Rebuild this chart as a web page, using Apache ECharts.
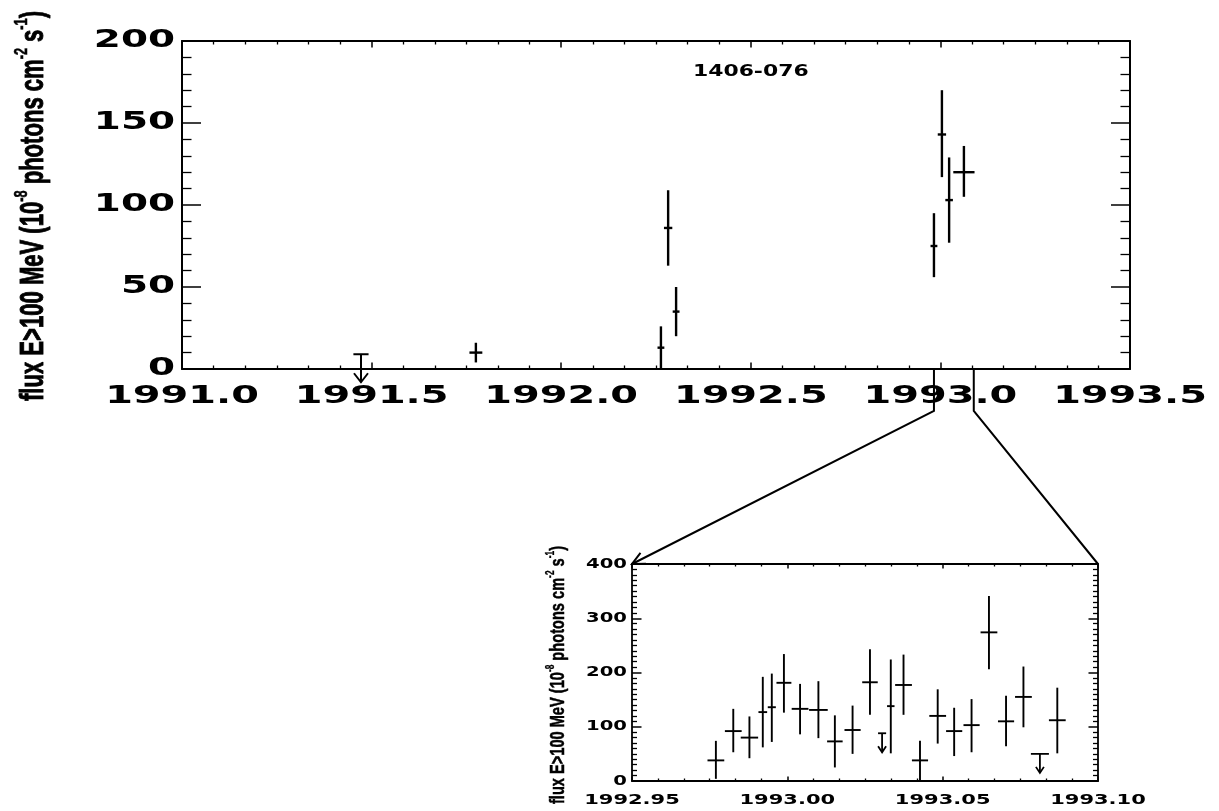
<!DOCTYPE html>
<html>
<head>
<meta charset="utf-8">
<title>1406-076 light curve</title>
<script src="https://cdn.jsdelivr.net/npm/echarts@6/dist/echarts.min.js"></script>
<style>
  html, body { margin: 0; padding: 0; background: #fff; }
  #chart { width: 1219px; height: 811px; }
</style>
</head>
<body>
<div id="chart"></div>
<script>
// Gamma-ray light curve of 1406-076, flux above 100 MeV (10^-8 photons cm^-2 s^-1)

// ---- long-term light curve (viewing periods) ----
const mainTime      = [1991.775, 1992.263, 1992.282, 1992.303, 1992.983, 1993.004, 1993.023, 1993.062];
const mainFlux      = [10, 13, 86, 35, 75, 143, 103, 120];
const mainFluxLow   = [4, 0, 63, 20, 56, 117, 77, 105];
const mainFluxHigh  = [16, 26, 109, 50, 95, 170, 129, 136];
const mainTimeErr   = [0.017, 0.009, 0.011, 0.009, 0.009, 0.011, 0.010, 0.028];
// upper limits
const mainLimitTime    = [1991.472];
const mainLimitFlux    = [9];
const mainLimitTimeErr = [0.020];

// ---- daily light curve around the flare ----
const insetTime     = [1992.977, 1992.9826, 1992.9878, 1992.9921, 1992.995, 1992.9989, 1993.0041, 1993.010,
                       1993.0153, 1993.021, 1993.0266, 1993.0333, 1993.0374, 1993.0427, 1993.0484, 1993.0537,
                       1993.0593, 1993.0649, 1993.0704, 1993.076, 1993.0869];
const insetFlux     = [38, 92, 80, 127, 136, 181, 133, 131, 73, 94, 182, 138, 177, 38, 120, 92, 103, 274, 110, 155, 112];
const insetFluxLow  = [4, 53, 42, 62, 72, 126, 86, 79, 25, 50, 122, 51, 122, 2, 69, 46, 53, 206, 64, 99, 51];
const insetFluxHigh = [74, 133, 119, 192, 198, 234, 179, 184, 121, 139, 243, 224, 233, 74, 169, 135, 151, 341, 157, 211, 172];
const insetTimeErr  = [0.0027, 0.0027, 0.0028, 0.0014, 0.0013, 0.0024, 0.0027, 0.0030, 0.0025, 0.0026, 0.0025,
                       0.0012, 0.0027, 0.0026, 0.0027, 0.0026, 0.0026, 0.0027, 0.0026, 0.0027, 0.0027];
const insetLimitTime    = [1993.0305, 1993.0813];
const insetLimitFlux    = [88, 50];
const insetLimitTimeErr = [0.0013, 0.0029];

// ---- tick labels ----
const mainYearTicks  = [1991.0, 1991.5, 1992.0, 1992.5, 1993.0, 1993.5];
const mainFluxTicks  = [0, 50, 100, 150, 200];
const insetYearTicks = [1992.95, 1993.00, 1993.05, 1993.10];
const insetFluxTicks = [0, 100, 200, 300, 400];

const sourceName = '1406-076';
const zoomRange = [1992.983, 1993.088];   // span marked on the long-term axis

const INK = '#000';
const LABEL_FONT = '"DejaVu Sans", "Liberation Sans", sans-serif';
const TITLE_FONT = '"Liberation Sans", Arial, sans-serif';

const chart = echarts.init(document.getElementById('chart'), null, { renderer: 'canvas' });

function zip(...cols) { return cols[0].map((_, i) => cols.map(c => c[i])); }

function frameAxis(kind, gridIndex, position, min, max, interval, split, majorLen, minorLen, lw) {
  return {
    type: 'value', gridIndex, position, min, max, interval,
    axisLine: { show: true, onZero: false, lineStyle: { color: INK, width: lw } },
    axisTick: { show: true, inside: true, length: majorLen, lineStyle: { color: INK, width: 1.5 } },
    minorTick: { show: true, splitNumber: split, length: minorLen, lineStyle: { color: INK, width: 1.3 } },
    axisLabel: { show: false },
    splitLine: { show: false },
    minorSplitLine: { show: false }
  };
}

function errorBars(lw) {
  return function (params, api) {
    const t = api.value(0), f = api.value(1), lo = api.value(2), hi = api.value(3), dt = api.value(4);
    const pLo = api.coord([t, lo]), pHi = api.coord([t, hi]);
    const pL = api.coord([t - dt, f]), pR = api.coord([t + dt, f]);
    const st = { stroke: INK, lineWidth: lw };
    return {
      type: 'group',
      children: [
        { type: 'line', shape: { x1: pLo[0], y1: pLo[1], x2: pHi[0], y2: pHi[1] }, style: st },
        { type: 'line', shape: { x1: pL[0], y1: pL[1], x2: pR[0], y2: pR[1] }, style: st }
      ]
    };
  };
}

function upperLimits(lw, drop, barbW, barbH) {
  return function (params, api) {
    const t = api.value(0), f = api.value(1), dt = api.value(2);
    const pL = api.coord([t - dt, f]), pR = api.coord([t + dt, f]), pC = api.coord([t, f]);
    const tipY = pC[1] + drop;
    const st = { stroke: INK, lineWidth: lw, fill: null };
    return {
      type: 'group',
      children: [
        { type: 'line', shape: { x1: pL[0], y1: pL[1], x2: pR[0], y2: pR[1] }, style: st },
        { type: 'line', shape: { x1: pC[0], y1: pC[1], x2: pC[0], y2: tipY }, style: st },
        { type: 'polyline', shape: { points: [[pC[0] - barbW, tipY - barbH], [pC[0], tipY], [pC[0] + barbW, tipY - barbH]] }, style: st }
      ]
    };
  };
}

const option = {
  backgroundColor: '#fff',
  animation: false,
  grid: [
    { left: 182, top: 41, width: 948, height: 328 },
    { left: 632, top: 564, width: 466, height: 217 }
  ],
  xAxis: [
    frameAxis('x', 0, 'bottom', 1991.0, 1993.5, 0.5, 6, 6.5, 3.5, 2),
    frameAxis('x', 0, 'top',    1991.0, 1993.5, 0.5, 6, 6.5, 3.5, 2),
    frameAxis('x', 1, 'bottom', 1992.95, 1993.10, 0.05, 6, 4.5, 2.5, 1.8),
    frameAxis('x', 1, 'top',    1992.95, 1993.10, 0.05, 6, 4.5, 2.5, 1.8)
  ],
  yAxis: [
    frameAxis('y', 0, 'left',  0, 200, 50, 5, 19, 9.5, 2),
    frameAxis('y', 0, 'right', 0, 200, 50, 5, 19, 9.5, 2),
    frameAxis('y', 1, 'left',  0, 400, 100, 10, 9.5, 5, 1.8),
    frameAxis('y', 1, 'right', 0, 400, 100, 10, 9.5, 5, 1.8)
  ],
  series: [
    {
      type: 'custom', name: 'main', xAxisIndex: 0, yAxisIndex: 0,
      renderItem: errorBars(2.4),
      data: zip(mainTime, mainFlux, mainFluxLow, mainFluxHigh, mainTimeErr)
    },
    {
      type: 'custom', name: 'main limits', xAxisIndex: 0, yAxisIndex: 0,
      renderItem: upperLimits(2, 28, 7, 9),
      data: zip(mainLimitTime, mainLimitFlux, mainLimitTimeErr)
    },
    {
      type: 'custom', name: 'daily', xAxisIndex: 2, yAxisIndex: 2,
      renderItem: errorBars(1.9),
      data: zip(insetTime, insetFlux, insetFluxLow, insetFluxHigh, insetTimeErr)
    },
    {
      type: 'custom', name: 'daily limits', xAxisIndex: 2, yAxisIndex: 2,
      renderItem: upperLimits(1.8, 19, 4, 6),
      data: zip(insetLimitTime, insetLimitFlux, insetLimitTimeErr)
    }
  ]
};

chart.setOption(option);

// ---- wide bold tick labels, titles and the zoom connector ----
const measureCtx = document.createElement('canvas').getContext('2d');
function textWidth(str, size, weight, family) {
  measureCtx.font = weight + ' ' + size + 'px ' + family;
  return measureCtx.measureText(str).width;
}

function wideText(x, y, text, size, scaleX, align, vAlign) {
  return {
    type: 'text', x, y, scaleX, silent: true,
    style: {
      text, fill: INK, fontSize: size, fontWeight: 'bold', fontFamily: LABEL_FONT,
      align, textAlign: align, verticalAlign: vAlign, textVerticalAlign: vAlign
    }
  };
}

function px(axis, idx, v) {
  const finder = {}; finder[axis + 'AxisIndex'] = idx;
  return chart.convertToPixel(finder, v);
}

function yTitle(cx, cy, length, body, sup, stroke, parts) {
  const bodyW = parts.reduce((s, p) => s + textWidth(p[0], p[1] ? sup : body, 'bold', TITLE_FONT), 0);
  const text = parts.map(p => p[1] ? '{s|' + p[0] + '}' : '{b|' + p[0] + '}').join('');
  return {
    type: 'text', x: cx, y: cy, rotation: Math.PI / 2, scaleX: length / bodyW, silent: true,
    style: {
      text, fill: INK, stroke: INK, lineWidth: stroke,
      align: 'center', textAlign: 'center', verticalAlign: 'middle', textVerticalAlign: 'middle',
      rich: {
        b: { fontSize: body, fontWeight: 'bold', fontFamily: TITLE_FONT, lineHeight: body * 1.15, verticalAlign: 'bottom',
             stroke: INK, lineWidth: stroke },
        s: { fontSize: sup, fontWeight: 'bold', fontFamily: TITLE_FONT, lineHeight: sup, verticalAlign: 'top',
             stroke: INK, lineWidth: stroke * 0.6 }
      }
    }
  };
}

const titleParts = [['flux E>100 MeV (10', 0], ['-8', 1], [' photons cm', 0], ['-2', 1], [' s', 0], ['-1', 1], [')', 0]];

const g = [];
const mainLeft = px('x', 0, 1991.0), mainBottom = px('y', 0, 0);
const insLeft = px('x', 2, 1992.95), insRight = px('x', 2, 1993.10), insTop = px('y', 2, 400), insBottom = px('y', 2, 0);

mainYearTicks.forEach(v => g.push(wideText(px('x', 0, v), mainBottom + 28, v.toFixed(1), 24, 1.66, 'center', 'middle')));
mainFluxTicks.forEach(v => g.push(wideText(mainLeft - 7, px('y', 0, v), String(v), 24, 1.62, 'right', 'middle')));
insetYearTicks.forEach(v => g.push(wideText(px('x', 2, v), insBottom + 19, v.toFixed(2), 14, 1.5, 'center', 'middle')));
insetFluxTicks.forEach(v => g.push(wideText(insLeft - 5, px('y', 2, v), String(v), 14, 1.4, 'right', 'middle')));

g.push(wideText(px('x', 0, 1992.5), px('y', 0, 181), sourceName, 15, 1.46, 'center', 'middle'));

g.push(yTitle(31, 206, 390, 33, 19, 0.9, titleParts));
g.push(yTitle(557, 675, 258, 21, 12, 0.5, titleParts));

// connector from the flare span on the long-term axis to the daily panel
const xa = px('x', 0, zoomRange[0]), xb = px('x', 0, zoomRange[1]);
const bendY = mainBottom + 42;
g.push({ type: 'polyline', silent: true, shape: { points: [[xa, mainBottom], [xa, bendY], [insLeft, insTop]] }, style: { stroke: INK, lineWidth: 2, fill: null } });
g.push({ type: 'polyline', silent: true, shape: { points: [[xb, mainBottom], [xb, bendY], [insRight, insTop]] }, style: { stroke: INK, lineWidth: 2, fill: null } });
(function arrowHead() {
  const dx = insLeft - xa, dy = insTop - bendY, L = Math.hypot(dx, dy);
  const ux = dx / L, uy = dy / L, len = 14, half = 0.45;
  const b1 = [insLeft - len * (ux * Math.cos(half) - uy * Math.sin(half)), insTop - len * (uy * Math.cos(half) + ux * Math.sin(half))];
  const b2 = [insLeft - len * (ux * Math.cos(half) + uy * Math.sin(half)), insTop - len * (uy * Math.cos(half) - ux * Math.sin(half))];
  g.push({ type: 'polyline', silent: true, shape: { points: [b1, [insLeft, insTop], b2] }, style: { stroke: INK, lineWidth: 2, fill: null } });
})();

chart.setOption({ graphic: g });
</script>
</body>
</html>
